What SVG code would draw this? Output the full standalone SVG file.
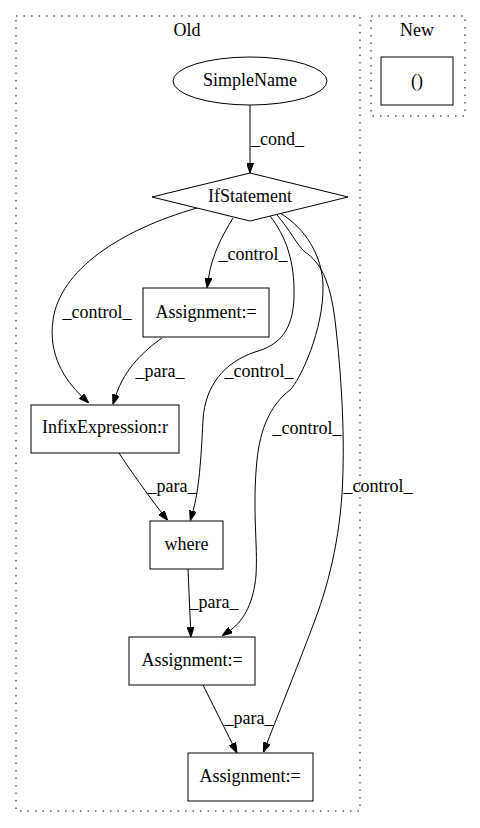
<svg xmlns="http://www.w3.org/2000/svg" width="480" height="828" viewBox="0 0 480 828">
<style>
text{font-family:"Liberation Serif","Times New Roman",Times,serif;font-size:18px;fill:#000;text-anchor:middle}
.cl{fill:none;stroke:#000;stroke-width:1;stroke-dasharray:1.5,6}
.n{fill:#fff;stroke:#000;stroke-width:1}
.e{fill:none;stroke:#000;stroke-width:1;marker-end:url(#ah)}
</style>
<defs>
<marker id="ah" markerUnits="userSpaceOnUse" viewBox="0 0 10 7" markerWidth="10" markerHeight="7" refX="0" refY="3.5" orient="auto">
<path d="M0,0 L10,3.5 L0,7 z" fill="#000" stroke="#000" stroke-width="1"/>
</marker>
</defs>
<rect width="480" height="828" fill="#fff"/>
<g id="cluster_old">
<rect class="cl" x="16" y="16" width="344" height="795"/>
<text x="187" y="36">Old</text>
</g>
<g id="cluster_new">
<rect class="cl" x="371" y="16" width="94" height="100"/>
<text x="417" y="36">New</text>
</g>
<g id="edges">
<path class="e" d="M250,105 L250,163"/>
<text x="277.5" y="145">_cond_</text>
<path class="e" d="M233,218 C222,236 212,255 208.5,278"/>
<text x="253" y="260">_control_</text>
<path class="e" d="M197,208 C120,230 60,270 53,320 C48,355 65,380 81.5,396"/>
<text x="97" y="318">_control_</text>
<path class="e" d="M162,338 C145,350 125,368 116,395"/>
<text x="160" y="377">_para_</text>
<path class="e" d="M270,216 C285,235 295,260 294,297 C293,330 280,345 255,352 C225,362 205,385 203,420 C201,460 199,490 193,511"/>
<text x="259" y="377">_control_</text>
<path class="e" d="M280,213 C305,228 322,255 323,285 C324,330 300,380 290,390 C270,405 260,430 257,460 C252,510 258,545 256,575 C254,600 245,620 230.5,630"/>
<text x="307" y="434">_control_</text>
<path class="e" d="M277,215 C290,230 297,245 305,252 C320,262 330,280 335,320 C342,380 344,430 343,470 C342,530 330,580 315,620 C300,660 280,710 267,743"/>
<text x="378" y="492">_control_</text>
<path class="e" d="M119,453 C130,470 148,495 161.5,512.5"/>
<text x="172" y="492">_para_</text>
<path class="e" d="M188,569 L190.5,627"/>
<text x="214" y="608">_para_</text>
<path class="e" d="M203,685 L232.5,744"/>
<text x="249" y="724">_para_</text>
</g>
<g id="node_simplename">
<ellipse class="n" cx="250" cy="81" rx="77" ry="24"/>
<text x="250" y="86">SimpleName</text>
</g>
<g id="node_new">
<rect class="n" x="381" y="57" width="72" height="48"/>
<text x="417" y="87">()</text>
</g>
<g id="node_if">
<polygon class="n" points="250,173 348,197 250,221 152,197"/>
<text x="250" y="202">IfStatement</text>
</g>
<g id="node_asg1">
<rect class="n" x="143" y="288" width="126" height="49"/>
<text x="206" y="318">Assignment:=</text>
</g>
<g id="node_infix">
<rect class="n" x="31" y="405" width="148" height="48"/>
<text x="105" y="433">InfixExpression:r</text>
</g>
<g id="node_where">
<rect class="n" x="150" y="521" width="73" height="48"/>
<text x="186.5" y="550">where</text>
</g>
<g id="node_asg2">
<rect class="n" x="129" y="637" width="126" height="48"/>
<text x="192" y="666">Assignment:=</text>
</g>
<g id="node_asg3">
<rect class="n" x="188" y="753" width="125" height="48"/>
<text x="250" y="782">Assignment:=</text>
</g>
</svg>
